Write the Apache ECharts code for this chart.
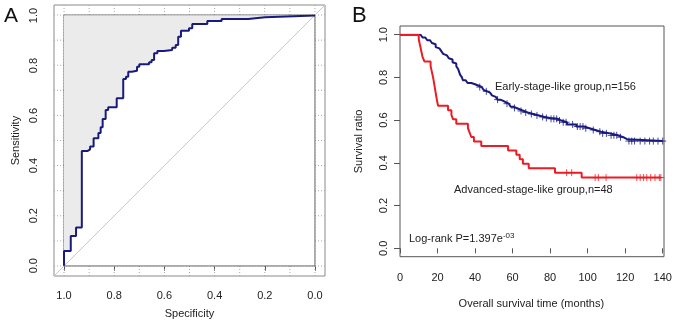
<!DOCTYPE html>
<html>
<head>
<meta charset="utf-8">
<script src="https://cdn.jsdelivr.net/npm/echarts@6/dist/echarts.min.js"></script>
<style>
  html, body { margin: 0; padding: 0; background: #fff; }
  #chart { width: 677px; height: 326px; }
</style>
</head>
<body>
<div id="chart"></div>
<script>
// A: ROC 曲线顶点（特异度, 灵敏度）
const rocSpec = [1, 1, 0.973, 0.973, 0.952, 0.952, 0.929, 0.929, 0.907, 0.907, 0.896, 0.896, 0.882, 0.882,
  0.863, 0.863, 0.854, 0.854, 0.846, 0.846, 0.834, 0.834, 0.824, 0.824, 0.790, 0.790, 0.764, 0.764,
  0.753, 0.753, 0.744, 0.744, 0.730, 0.730, 0.709, 0.709, 0.700, 0.700, 0.661, 0.661, 0.651, 0.651,
  0.641, 0.641, 0.628, 0.628, 0.602, 0.602, 0.569, 0.569, 0.555, 0.555, 0.545, 0.545, 0.534, 0.534,
  0.502, 0.502, 0.489, 0.489, 0.429, 0.429, 0.372, 0.372, 0.266, 0.266, 0.199, 0.199, 0]
const rocSens = [0, 0.059, 0.059, 0.119, 0.119, 0.153, 0.153, 0.458, 0.458, 0.465, 0.465, 0.476, 0.476, 0.509,
  0.509, 0.530, 0.530, 0.553, 0.553, 0.586, 0.586, 0.622, 0.622, 0.633, 0.633, 0.669, 0.669, 0.746,
  0.746, 0.755, 0.755, 0.775, 0.775, 0.779, 0.779, 0.795, 0.795, 0.805, 0.805, 0.813, 0.813, 0.822,
  0.822, 0.849, 0.849, 0.858, 0.858, 0.862, 0.862, 0.871, 0.871, 0.882, 0.882, 0.915, 0.915, 0.939,
  0.939, 0.949, 0.949, 0.966, 0.966, 0.978, 0.978, 0.986, 0.986, 0.993, 0.993, 1, 1]
const rocGrid = [0, 0.1, 0.2, 0.3, 0.4, 0.5, 0.6, 0.7, 0.8, 0.9, 1]
const aucText = 'AUC: 0.816'

// B: 生存曲线（事件时间, 事件后的生存率），删失时间
const earlyTime = [11, 12, 13.5, 14.5, 16, 17, 18, 19, 20, 21, 22, 23, 24, 25, 26, 27, 28, 29, 30, 31,
  31.5, 32, 33, 33.5, 35, 36, 38, 40, 42, 43.5, 44.5, 45.5, 46.5, 48, 49, 50, 51, 52, 53.5, 55,
  56.5, 58, 59, 60.5, 62, 64, 66, 68, 71, 74, 77, 80, 84, 86, 89, 94, 98, 101, 104, 107,
  112, 116, 119, 121]
const earlySurv = [0.994, 0.987, 0.981, 0.974, 0.968, 0.961, 0.955, 0.942, 0.936, 0.929, 0.923, 0.910, 0.903, 0.897, 0.890, 0.884, 0.871, 0.865, 0.852, 0.839,
  0.826, 0.813, 0.800, 0.787, 0.781, 0.774, 0.768, 0.761, 0.755, 0.748, 0.742, 0.735, 0.729, 0.722, 0.716, 0.709, 0.703, 0.696, 0.690, 0.683,
  0.677, 0.670, 0.663, 0.657, 0.650, 0.643, 0.636, 0.629, 0.622, 0.615, 0.610, 0.606, 0.598, 0.590, 0.580, 0.570, 0.562, 0.554, 0.546, 0.538,
  0.529, 0.520, 0.511, 0.502]
const earlyCensor = [42.5, 46, 52, 57, 61, 64.5, 67, 70, 73, 76, 78, 80.5, 82, 83.5, 85, 87, 88.5, 92, 94.5, 96,
  97.5, 99, 103, 106.5, 108, 110, 112.5, 114, 115.5, 117.5, 122, 123.5, 125, 128, 130.5, 133, 135, 137.5, 140]

const advTime = [10, 10.5, 11, 11.5, 12, 13, 16.3, 16.8, 17.3, 17.8, 18.2, 18.6, 19, 19.4, 19.8, 20.3,
  25.6, 27.4, 28.3, 30, 36.2, 37.1, 38, 39.4, 43.3, 57.6, 62, 63.8, 65.5, 68.6, 82.6, 96.8]
const advSurv = [0.979, 0.958, 0.938, 0.917, 0.896, 0.875, 0.854, 0.833, 0.813, 0.792, 0.771, 0.750, 0.729, 0.708, 0.688, 0.667,
  0.646, 0.625, 0.604, 0.583, 0.563, 0.542, 0.521, 0.500, 0.479, 0.458, 0.438, 0.417, 0.396, 0.375, 0.354, 0.331]
const advCensor = [88.8, 91.5, 104, 105.7, 109.8, 126.2, 128, 129.8, 131.5, 133.6, 135.9, 138.2, 139]

const earlyLabel = 'Early-stage-like group,n=156'
const advLabel = 'Advanced-stage-like group,n=48'

const FONT = 'Liberation Sans, Arial, sans-serif'
const NAVY = '#1a1a7e'
const RED = '#ec1c24'
const padA = 0.04

// KM 阶梯：先水平再垂直
function kmPath(times, surv, end) {
  const pts = [[0, 1]]
  let s = 1
  times.forEach((t, i) => {
    pts.push([t, s])
    s = surv[i]
    pts.push([t, s])
  })
  pts.push([end, s])
  return pts
}
function survAt(times, surv, t) {
  let s = 1
  times.forEach((tt, i) => { if (tt <= t) s = surv[i] })
  return s
}

const labelStyle = { color: '#222', fontFamily: FONT, fontSize: 11 }
const nameStyle = { color: '#222', fontFamily: FONT, fontSize: 11 }
const tickStyle = { lineStyle: { color: '#555', width: 1 } }
const cross = 'path://M0,-1V1M-1,0H1'

const option = {
  animation: false,
  backgroundColor: '#fff',
  grid: [
    // A 数据区
    { left: 64, top: 15.5, width: 251, height: 250.2, outerBoundsMode: 'none' },
    // A 外框
    { left: 54, top: 5, width: 271, height: 271, show: true, borderColor: '#8a8a8a', borderWidth: 1,
      backgroundColor: 'transparent', outerBoundsMode: 'none' },
    // B 数据区
    { left: 400, top: 34.7, width: 262.7, height: 213.6, outerBoundsMode: 'none' },
    // B 外框
    { left: 400, top: 26, width: 264, height: 230.7, show: true, borderColor: '#555', borderWidth: 1,
      backgroundColor: 'transparent', outerBoundsMode: 'none' }
  ],
  xAxis: [
    { gridIndex: 0, type: 'value', min: 0, max: 1, interval: 0.2, inverse: true, offset: 10,
      axisLine: { show: false }, axisTick: { length: 5, ...tickStyle }, splitLine: { show: false },
      axisLabel: { ...labelStyle, margin: 15, formatter: v => v.toFixed(1) },
      name: 'Specificity', nameLocation: 'middle', nameGap: 33, nameTextStyle: nameStyle },
    { gridIndex: 1, type: 'value', min: -padA, max: 1 + padA, inverse: true, show: false },
    { gridIndex: 2, type: 'value', min: 0, max: 140, interval: 20, offset: 8.4,
      axisLine: { show: false }, axisTick: { length: 5, ...tickStyle }, splitLine: { show: false },
      axisLabel: { ...labelStyle, margin: 16 },
      name: 'Overall survival time (months)', nameLocation: 'middle', nameGap: 42, nameTextStyle: nameStyle },
    { gridIndex: 3, type: 'value', min: 0, max: 1, show: false }
  ],
  yAxis: [
    { gridIndex: 0, type: 'value', min: 0, max: 1, interval: 0.2, offset: 10,
      axisLine: { show: false }, axisTick: { length: 5, ...tickStyle }, splitLine: { show: false },
      axisLabel: { ...labelStyle, margin: 15, rotate: 90, formatter: v => v.toFixed(1) },
      name: 'Sensitivity', nameLocation: 'middle', nameGap: 33, nameTextStyle: nameStyle },
    { gridIndex: 1, type: 'value', min: -padA, max: 1 + padA, show: false },
    { gridIndex: 2, type: 'value', min: 0, max: 1, interval: 0.2,
      axisLine: { show: false }, axisTick: { length: 6, ...tickStyle }, splitLine: { show: false },
      axisLabel: { ...labelStyle, margin: 11, rotate: 90, formatter: v => v.toFixed(1) },
      name: 'Survival ratio', nameLocation: 'middle', nameGap: 36, nameTextStyle: nameStyle },
    { gridIndex: 3, type: 'value', min: 0, max: 1, show: false }
  ],
  series: [
    // 虚线网格（外框内）
    {
      type: 'custom', xAxisIndex: 1, yAxisIndex: 1, z: 1, silent: true,
      data: rocGrid,
      renderItem: (params, api) => {
        const v = api.value(0)
        const a = api.coord([v, -padA]), b = api.coord([v, 1 + padA])
        const c = api.coord([-padA, v]), d = api.coord([1 + padA, v])
        const style = { stroke: '#aaa', lineWidth: 1, lineDash: [1, 2] }
        return { type: 'group', children: [
          { type: 'line', shape: { x1: a[0], y1: a[1], x2: b[0], y2: b[1] }, style },
          { type: 'line', shape: { x1: c[0], y1: c[1], x2: d[0], y2: d[1] }, style }
        ] }
      }
    },
    // 内框（白底）
    {
      type: 'custom', xAxisIndex: 1, yAxisIndex: 1, z: 2, silent: true,
      data: [[1, 0, 0, 1]],
      renderItem: (params, api) => {
        const p0 = api.coord([api.value(0), api.value(1)])
        const p1 = api.coord([api.value(2), api.value(3)])
        return { type: 'rect',
          shape: { x: p0[0], y: p1[1], width: p1[0] - p0[0], height: p0[1] - p1[1] },
          style: { fill: '#fff', stroke: '#666', lineWidth: 1 } }
      }
    },
    // 对角线
    {
      type: 'line', xAxisIndex: 1, yAxisIndex: 1, z: 3, silent: true, symbol: 'none',
      lineStyle: { color: '#c8c8c8', width: 1 },
      data: [[1 + padA, -padA], [-padA, 1 + padA]]
    },
    // ROC 曲线 + 上方灰色区域
    {
      type: 'line', xAxisIndex: 0, yAxisIndex: 0, z: 4, silent: true, symbol: 'none',
      lineStyle: { color: NAVY, width: 2 },
      areaStyle: { color: '#ebebeb', opacity: 1, origin: 'end' },
      data: rocSpec.map((x, i) => [x, rocSens[i]])
    },
    // 生存曲线
    {
      type: 'line', xAxisIndex: 2, yAxisIndex: 2, z: 4, silent: true, symbol: 'none',
      lineStyle: { color: NAVY, width: 2 },
      data: kmPath(earlyTime, earlySurv, earlyCensor[earlyCensor.length - 1])
    },
    {
      type: 'line', xAxisIndex: 2, yAxisIndex: 2, z: 4, silent: true, symbol: 'none',
      lineStyle: { color: RED, width: 2 },
      data: kmPath(advTime, advSurv, advCensor[advCensor.length - 1])
    },
    {
      type: 'scatter', xAxisIndex: 2, yAxisIndex: 2, z: 5, silent: true,
      symbol: cross, symbolSize: 7,
      itemStyle: { color: 'rgba(0,0,0,0)', borderColor: NAVY, borderWidth: 1 },
      data: earlyCensor.map(t => [t, survAt(earlyTime, earlySurv, t)])
    },
    {
      type: 'scatter', xAxisIndex: 2, yAxisIndex: 2, z: 5, silent: true,
      symbol: cross, symbolSize: 7,
      itemStyle: { color: 'rgba(0,0,0,0)', borderColor: RED, borderWidth: 1 },
      data: advCensor.map(t => [t, survAt(advTime, advSurv, t)])
    }
  ],
  graphic: [
    { type: 'text', left: 4, top: 6, style: { text: 'A', font: '21px ' + FONT, fill: '#111' } },
    { type: 'text', left: 352, top: 5, style: { text: 'B', font: '22px ' + FONT, fill: '#111' } },
    { type: 'text', x: 190, y: 145, style: { text: aucText, font: '11px ' + FONT, fill: NAVY,
      verticalAlign: 'middle', textVerticalAlign: 'middle' } },
    { type: 'text', x: 495, y: 87, style: { text: earlyLabel, font: '11px ' + FONT, fill: '#222',
      verticalAlign: 'middle', textVerticalAlign: 'middle' } },
    { type: 'text', x: 454, y: 190, style: { text: advLabel, font: '11px ' + FONT, fill: '#222',
      verticalAlign: 'middle', textVerticalAlign: 'middle' } },
    { type: 'text', x: 409, y: 238.5, style: {
      text: '{a|Log-rank P=1.397e}{b|-03}', fill: '#222', verticalAlign: 'middle', textVerticalAlign: 'middle',
      rich: {
        a: { fontSize: 11, fontFamily: FONT, lineHeight: 14, fill: '#222' },
        b: { fontSize: 8, fontFamily: FONT, lineHeight: 14, verticalAlign: 'top', fill: '#222' }
      }
    } }
  ]
}

const chart = echarts.init(document.getElementById('chart'))
chart.setOption(option)
window.addEventListener('resize', chart.resize)
</script>
</body>
</html>
